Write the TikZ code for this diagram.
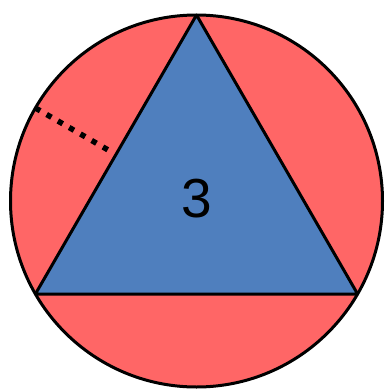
\documentclass[tikz,border=0pt]{standalone}
\usepackage{fontspec}
\setmainfont{Liberation Sans}
\usetikzlibrary{calc}
\definecolor{segred}{HTML}{FF6666}
\definecolor{triblue}{HTML}{4F7FBE}
\tikzset{
  outline/.style={draw=black, line width=3pt, line join=round},
  sagitta/.style={line width=5.5pt, dash pattern=on 5.5pt off 7.5pt}
}
\begin{document}
\begin{tikzpicture}[x=1pt,y=-1pt]
\useasboundingbox (0,0) rectangle (385,391);
\coordinate (O) at (196.5,201);
\coordinate (A) at (196.5,15);
\coordinate (B) at (35.4,294);
\coordinate (C) at (357.6,294);
\coordinate (P) at (35.4,108);
\coordinate (M) at ($(A)!0.5!(B)$);
\draw[outline, fill=segred] (O) circle (186pt);
\draw[outline, fill=triblue] (A) -- (B) -- (C) -- cycle;
\draw[sagitta] (P) -- ($(M)!9pt!(P)$);
\node[font=\fontsize{55}{60}\selectfont] (n) at (197,199) {3};
\end{tikzpicture}
\end{document}
